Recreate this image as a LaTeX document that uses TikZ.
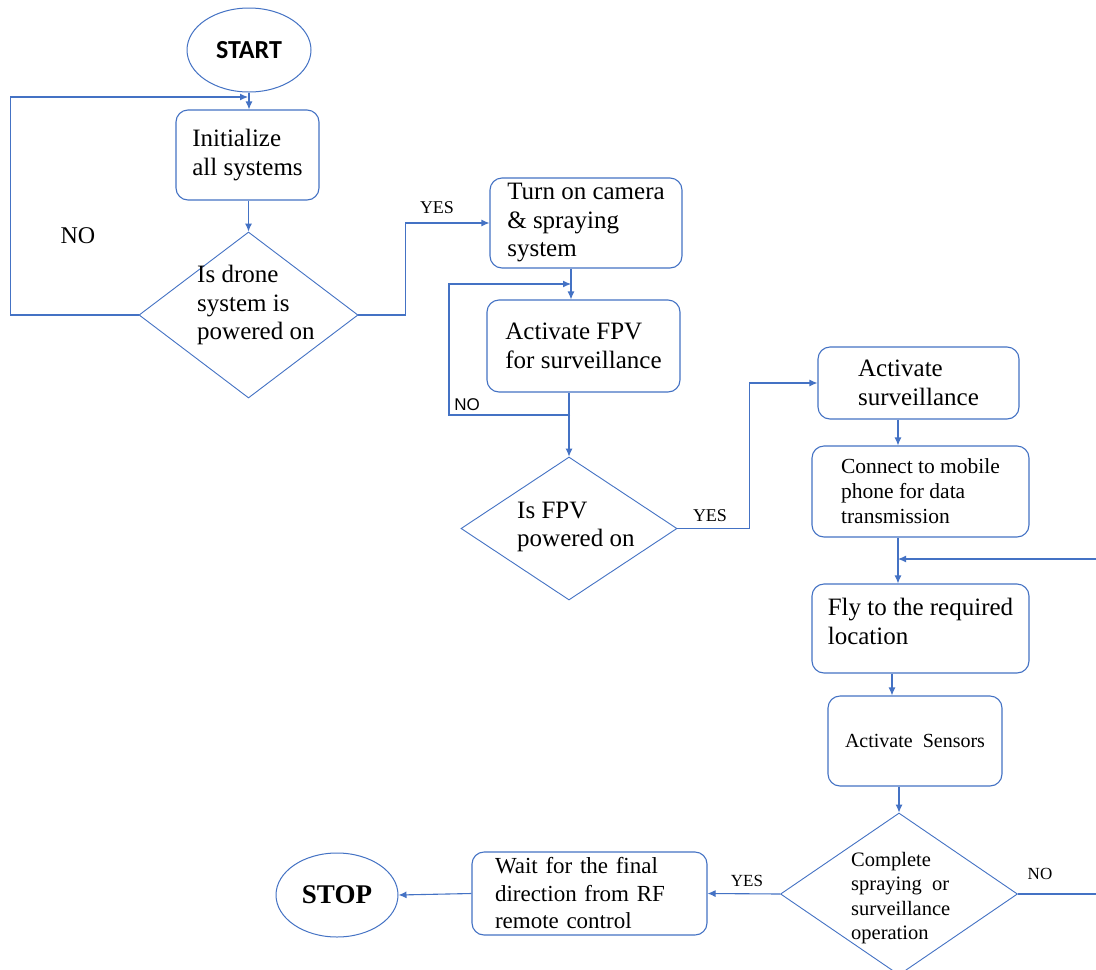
\documentclass[tikz,border=0pt]{standalone}
\usepackage{fontspec}
\setmainfont{Liberation Serif}
\setsansfont{Liberation Sans}
\newfontfamily\calib{Carlito}
\usetikzlibrary{shapes.geometric,arrows.meta}
\definecolor{lb}{HTML}{4472C4}
\begin{document}
\begin{tikzpicture}[x=1pt,y=-1pt,
 box/.style={draw=lb, line width=1.1pt, rounded corners=12pt, align=left, inner sep=0pt},
 dia/.style={draw=lb, line width=0.9pt, diamond, inner sep=0pt},
 ln/.style={draw=lb, line width=1.1pt},
 arr/.style={ln, -{Latex[length=8pt,width=7pt]}},
 t25/.style={font=\fontsize{25}{28.5}\selectfont},
 lab/.style={inner sep=0pt}
]
\useasboundingbox (0,0) rectangle (1096,970);
\fill[white] (0,0) rectangle (1096,970);

% nodes
\node[draw=lb, line width=1pt, ellipse, minimum width=124, minimum height=84, inner sep=0pt,
      font=\calib\bfseries\fontsize{26}{30}\selectfont] (start) at (249,50) {START};
\node[box, minimum width=143, minimum height=90, t25] (init) at (247.5,155) {Initialize\\all systems};
\node[dia, minimum width=219, minimum height=166] (d1) at (248.5,315) {};
\node[t25, align=left, anchor=west, lab] (d1t) at (197,305) {Is drone\\system is\\powered on};

\node[box, minimum width=192, minimum height=90, t25] (cam) at (586,223) {Turn on camera\\\& spraying\\system};
\node[box, minimum width=193, minimum height=92, t25] (fpv) at (583.5,346) {Activate FPV\\for surveillance};
\node[dia, minimum width=216, minimum height=143] (d2) at (569,528.5) {};
\node[t25, align=left, anchor=west, lab] (d2t) at (517,527) {Is FPV\\powered on};

\node[box, minimum width=201, minimum height=72, t25] (surv) at (918.5,383) {Activate\\surveillance};
\node[box, minimum width=217, minimum height=91, font=\fontsize{21.5}{25}\selectfont] (conn) at (920.5,491.5) {Connect to mobile\\phone for data\\transmission};
\node[box, minimum width=217, minimum height=89, t25] (fly) at (920.5,628.5) {Fly to the required\\location\\[-14pt]~};
\node[box, minimum width=174, minimum height=90, font=\fontsize{20}{23}\selectfont] (sens) at (915,741) {Activate\ \ Sensors};
\node[dia, minimum width=237, minimum height=162] (d3) at (899,894) {};
\node[align=left, anchor=west, lab, font=\fontsize{20.5}{24.3}\selectfont] (d3t) at (851,898) {Complete\\spraying\ \ or\\surveillance\\operation};
\node[box, minimum width=235, minimum height=83, text width=189, font=\fontsize{23}{27.5}\selectfont] (wait) at (589.5,893.5) {Wait for the final\\direction from RF\\remote control};
\node[draw=lb, line width=1pt, ellipse, minimum width=122, minimum height=84, inner sep=0pt,
      font=\bfseries\fontsize{27}{30}\selectfont] (stop) at (337,895) {STOP};

% labels
\node[lab, font=\fontsize{24}{28}\selectfont] (no1) at (78,236) {NO};
\node[lab, font=\fontsize{18}{20}\selectfont] (yes1) at (437,208) {YES};
\node[lab, font=\sffamily\fontsize{17}{20}\selectfont] (no2) at (467,405) {NO};
\node[lab, font=\fontsize{18}{20}\selectfont] (yes2) at (710,516) {YES};
\node[lab, font=\fontsize{17}{20}\selectfont] (yes3) at (747,881) {YES};
\node[lab, font=\fontsize{17}{20}\selectfont] (no3) at (1040,874) {NO};

% coordinates
\coordinate (j1) at (248,97);
\coordinate (x571) at (571,0);
\coordinate (no2a) at (570,415);
\coordinate (no2b) at (571,284);
\coordinate (x898) at (898,0);
\coordinate (x892) at (892,0);
\coordinate (rin) at (1096,559);
\coordinate (rout) at (1096,894);

% connectors
\draw[arr] (start.south) -- (start.south |- init.north);
\draw[arr] (d1.west) -- ++(-128,0) |- (j1);
\draw[arr] (init.south -| d1.north) -- (d1.north);
\draw[arr] (d1.east) -- ++(47,0) |- (cam.west);
\draw[arr] (cam.south -| x571) -- (fpv.north -| x571);
\draw[arr] (no2a) -- ++(-121,0) |- (no2b);
\draw[arr] (fpv.south -| d2.north) -- (d2.north);
\draw[arr] (d2.east) -- ++(72,0) |- (surv.west);
\draw[arr] (surv.south -| x898) -- (conn.north -| x898);
\draw[arr] (conn.south -| x898) -- (fly.north -| x898);
\draw[arr] (rin) -- (rin -| x898);
\draw[arr] (fly.south -| x892) -- (sens.north -| x892);
\draw[arr] (sens.south -| d3.north) -- (d3.north);
\draw[ln] (d3.east) -- (rout);
\draw[arr] (d3.west) -- (wait.east);
\draw[arr] (wait.west) -- (stop.east);
\end{tikzpicture}
\end{document}
